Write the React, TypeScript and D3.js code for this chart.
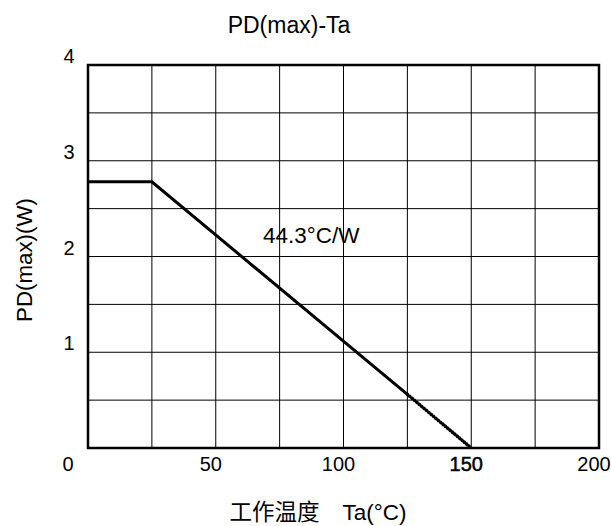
import React from 'react';
import * as d3 from 'd3';

// chart size
const width = 611;
const height = 526;
const margin = { top: 65, right: 12, bottom: 78, left: 88 };

// data
const xTicks = [0, 50, 100, 150, 200];
const yTicks = [0, 1, 2, 3, 4];
const xGrid = [25, 50, 75, 100, 125, 150, 175];
const yGrid = [0.5, 1, 1.5, 2, 2.5, 3, 3.5];
const solidTa = [0, 25, 125];
const solidPd = [2.78, 2.78, 0.56];
const dottedTa = [125, 150];
const dottedPd = [0.56, 0];

const font = '"Liberation Sans", Arial, sans-serif';

export default function App() {
  const x = d3.scaleLinear().domain([0, 200]).range([margin.left, width - margin.right]);
  const y = d3.scaleLinear().domain([0, 4]).range([height - margin.bottom, margin.top]);

  const line = d3.line<[number, number]>()
    .x(d => x(d[0]))
    .y(d => y(d[1]));

  const solid = solidTa.map((t, i) => [t, solidPd[i]] as [number, number]);
  const dotted = dottedTa.map((t, i) => [t, dottedPd[i]] as [number, number]);

  return (
    <svg width={width} height={height} style={{ position: 'absolute', left: 0, top: 0, background: '#fff' }}>
      <text x={289} y={33} textAnchor="middle" fontFamily={font} fontSize={23} fill="#000">PD(max)-Ta</text>

      {/* grid */}
      {xGrid.map(v => (
        <line key={'gx' + v} x1={x(v)} x2={x(v)} y1={y(0)} y2={y(4)} stroke="#000" strokeWidth={1} />
      ))}
      {yGrid.map(v => (
        <line key={'gy' + v} x1={x(0)} x2={x(200)} y1={y(v)} y2={y(v)} stroke="#000" strokeWidth={1} />
      ))}
      <rect x={x(0)} y={y(4)} width={x(200) - x(0)} height={y(0) - y(4)} fill="none" stroke="#000" strokeWidth={2.5} />

      {/* derating curve */}
      <path d={line(solid) || ''} fill="none" stroke="#000" strokeWidth={3} />
      <path d={line(dotted) || ''} fill="none" stroke="#000" strokeWidth={3.6} strokeDasharray="0.1 3" strokeLinecap="round" />
      <text x={263} y={243} fontFamily={font} fontSize={22.5} fill="#000">44.3°C/W</text>

      {/* tick labels */}
      {xTicks.map(v => (
        <text key={'tx' + v} x={v === 0 ? 68 : x(v) - 5} y={471} textAnchor="middle" fontFamily={font} fontSize={20} fill="#000"
          stroke={v === 150 ? '#000' : 'none'} strokeWidth={0.5}>{v}</text>
      ))}
      {yTicks.filter(v => v > 0).map(v => (
        <text key={'ty' + v} x={69} y={y(v) - 2} textAnchor="middle" fontFamily={font} fontSize={20} fill="#000">{v}</text>
      ))}

      {/* axis titles */}
      <text x={318} y={520} textAnchor="middle" fontSize={22.5} fill="#000">
        <tspan fontFamily='"Noto Sans CJK SC", serif'>工作温度</tspan>
        <tspan fontFamily={font}>{'\u3000Ta(°C)'}</tspan>
      </text>
      <text transform={`translate(32, 260) rotate(-90)`} textAnchor="middle" fontFamily={font} fontSize={22.3} fill="#000">PD(max)(W)</text>
    </svg>
  );
}
